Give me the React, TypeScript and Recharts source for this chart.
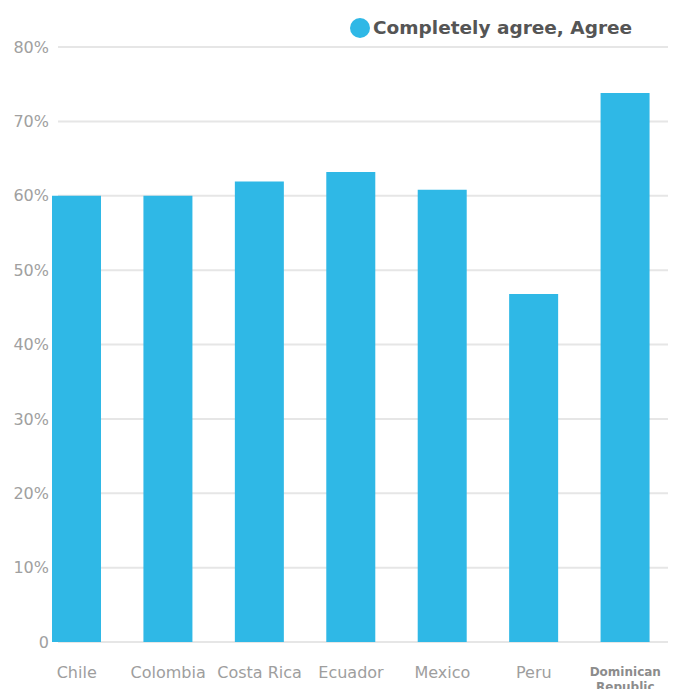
import React from "react";
import { BarChart, Bar, XAxis, YAxis, CartesianGrid, Legend } from "recharts";

const countries = ["Chile", "Colombia", "Costa Rica", "Ecuador", "Mexico", "Peru", "Dominican Republic"];
const agreeValues = [60, 60, 61.9, 63.2, 60.8, 46.8, 73.8];
const yTicks = [0, 10, 20, 30, 40, 50, 60, 70, 80];
const seriesName = "Completely agree, Agree";

const data = countries.map((c, i) => ({ country: c, agree: agreeValues[i] }));

const BLUE = "#2fb8e6";
const FONT = "'DejaVu Sans', sans-serif";

const XTick = (props: any) => {
  const { x, y, payload } = props;
  const label: string = payload.value;
  if (label.length > 12) {
    const words = label.split(" ");
    return (
      <text x={x} y={y} textAnchor="middle" fontFamily={FONT} fontSize={12} fontWeight="bold" fill="#8c8c8c">
        {words.map((w, i) => (
          <tspan key={i} x={x} dy={i === 0 ? "0.71em" : 15}>{w}</tspan>
        ))}
      </text>
    );
  }
  return (
    <text x={x} y={y} dy="0.71em" textAnchor="middle" fontFamily={FONT} fontSize={16} fill="#9e9e9e">
      {label}
    </text>
  );
};

const LegendContent = () => (
  <div style={{ display: "flex", alignItems: "center", fontFamily: FONT, whiteSpace: "nowrap" }}>
    <span style={{ display: "inline-block", width: 20, height: 20, borderRadius: 10, background: BLUE, marginRight: 3 }} />
    <span style={{ fontSize: 18.5, fontWeight: "bold", color: "#555555" }}>{seriesName}</span>
  </div>
);

export default function App() {
  return (
    <BarChart width={668} height={681} data={data} margin={{ top: 39, right: 0, bottom: 0, left: 0 }}>
      <CartesianGrid vertical={false} stroke="#e6e6e6" strokeWidth={2} />
      <XAxis
        dataKey="country"
        axisLine={false}
        tickLine={false}
        tickSize={0}
        tickMargin={25}
        height={47}
        interval={0}
        padding={{ left: -27, right: 5 }}
        tick={<XTick />}
      />
      <YAxis
        width={50}
        domain={[0, 80]}
        ticks={yTicks}
        axisLine={false}
        tickLine={false}
        tickSize={6}
        tickMargin={3}
        tickFormatter={(v: number) => (v === 0 ? "0" : `${v}%`)}
        tick={{ fill: "#a0a0a0", fontSize: 16, fontFamily: FONT }}
      />
      <Legend
        layout="horizontal"
        verticalAlign="middle"
        align="center"
        content={<LegendContent />}
        wrapperStyle={{ position: "absolute", top: 9, left: 342, width: "auto" }}
      />
      <Bar dataKey="agree" name={seriesName} fill={BLUE} barSize={49} isAnimationActive={false} />
    </BarChart>
  );
}
